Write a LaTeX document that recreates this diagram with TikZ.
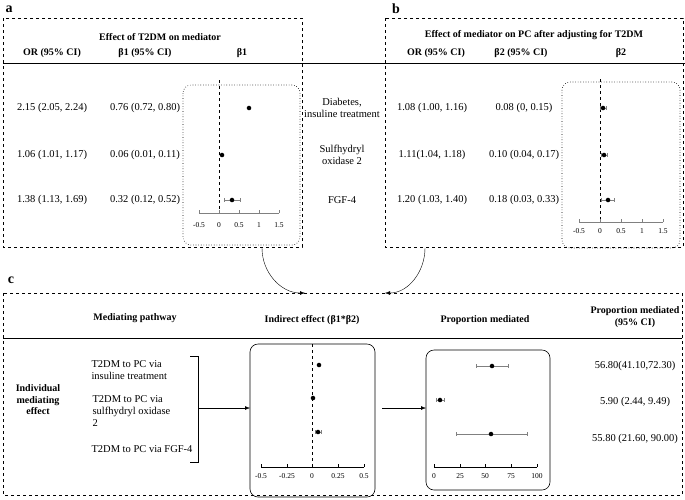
\documentclass[tikz,border=0pt]{standalone}
\usepackage{fontspec}
\setmainfont{Liberation Serif}
\usetikzlibrary{calc,arrows.meta}

\begin{document}
\begin{tikzpicture}[x=1pt,y=-1pt,font=\fontsize{10.5}{12}\selectfont,
 panel/.style={draw,dashed,line width=0.6pt},
 plotbox/.style={draw,rounded corners=8pt,line width=0.6pt},
 head/.style={font=\fontsize{10}{11.5}\selectfont\bfseries},
 lett/.style={font=\fontsize{14}{14}\selectfont\bfseries},
 tick/.style={font=\fontsize{7.5}{8}\selectfont},
 dot/.style={fill,circle,inner sep=1.6pt}]

\newcommand{\est}[5] % [x0][scale][y][lo][hi]
{
 \draw[gray] (#1+#4*#2,#3) -- (#1+#5*#2,#3)
  (#1+#4*#2,#3-2) -- ++(0,4) (#1+#5*#2,#3-2) -- ++(0,4);
}

\useasboundingbox (0,0) rectangle (685,499);

% panel a
\node[lett] (la) at (9,9) {a};
\draw[panel] (3,18) rectangle (302,247);
\node[head] (ha) at (160,37) {Effect of T2DM on mediator};
\node[head] (or1) at (52,53) {OR (95\% CI)};
\node[head] (b1) at (145,53) {β1 (95\% CI)};
\node[head] (b1p) at (242,53) {β1};
\draw[line width=0.8pt] (3,63) -- (685,63);
\foreach \y/\o/\b in {108/{2.15 (2.05, 2.24)}/{0.76 (0.72, 0.80)},
 155/{1.06 (1.01, 1.17)}/{0.06 (0.01, 0.11)},
 200/{1.38 (1.13, 1.69)}/{0.32 (0.12, 0.52)}}
 \node at (52,\y) {\o} node at (145,\y) {\b};
\draw[plotbox,dotted] (183,85) rectangle (300,245);
\draw[dashed] (219,80) -- (219,213);
\draw[gray] (199,213) -- (279,213);
\foreach \t/\x in {-0.5/199,0/219,0.5/239,1/259,1.5/279}
 \draw[gray] (\x,213) -- ++(0,-3) node[below=9pt,tick,text=black]{\t};
\est{219}{40}{200}{0.12}{0.52}
\node[dot] (pa1) at (249,108) {};
\node[dot] (pa2) at (222,155) {};
\node[dot] (pa3) at (232,200) {};

% mediators
\node[align=center] (m1) at (342,108) {Diabetes,\\insuline treatment};
\node[align=center] (m2) at (342,155) {Sulfhydryl\\oxidase 2};
\node (m3) at (342,200) {FGF-4};

% panel b
\node[lett] (lb) at (396,9) {b};
\draw[panel] (385,18) rectangle (683,247);
\node[head] (hb) at (534,35) {Effect of mediator on PC after adjusting for T2DM};
\node[head] (or2) at (436,53) {OR (95\% CI)};
\node[head] (b2) at (521,53) {β2 (95\% CI)};
\node[head] (b2p) at (621,53) {β2};
\foreach \y/\o/\b in {108/{1.08 (1.00, 1.16)}/{0.08 (0, 0.15)},
 155/{1.11(1.04, 1.18)}/{0.10 (0.04, 0.17)},
 200/{1.20 (1.03, 1.40)}/{0.18 (0.03, 0.33)}}
 \node at (432,\y) {\o} node at (524,\y) {\b};
\draw[plotbox,dotted] (562,82) rectangle (680,248);
\draw[dashed] (600,79) -- (600,222);
\draw[gray] (579,222) -- (663,222);
\foreach \t/\x in {-0.5/579,0/600,0.5/621,1/642,1.5/663}
 \draw[gray] (\x,222) -- ++(0,-3) node[below=6pt,tick,text=black]{\t};
\est{600}{42}{108}{0}{0.15}
\est{600}{42}{155}{0.04}{0.17}
\est{600}{42}{200}{0.03}{0.33}
\node[dot] (pb1) at (603,108) {};
\node[dot] (pb2) at (604,155) {};
\node[dot] (pb3) at (608,200) {};

% panel c
\coordinate (fa) at (262,248);
\coordinate (ta) at (305,293);
\coordinate (fb) at (425,248);
\coordinate (tb) at (385,293);
\draw[-{Latex[length=5pt]}] (fa) to[out=-90,in=180] (ta);
\draw[-{Latex[length=5pt]}] (fb) to[out=-90,in=0] (tb);

\node[lett] (lc) at (11,280) {c};
\draw[panel] (3,293) rectangle (682,495);
\node[head] (hc1) at (135,318) {Mediating pathway};
\node[head] (hc2) at (312,320) {Indirect effect (β1*β2)};
\node[head] (hc3) at (485,320) {Proportion mediated};
\node[head,align=center] (hc4) at (635,317) {Proportion mediated\\(95\% CI)};
\draw[line width=0.8pt] (3,338) -- (682,338);
\node[head,align=center] (ind) at (38,400) {Individual\\mediating\\effect};
\node[align=left,anchor=west] (pw1) at (88,370) {T2DM to PC via\\insuline treatment};
\node[align=left,anchor=west] (pw2) at (89,411) {T2DM to PC via\\sulfhydryl oxidase\\2};
\node[anchor=west] (pw3) at (88,449) {T2DM to PC via FGF-4};
\draw (190,356) -- (198,356) -- (198,462) -- (190,462);
\coordinate (br) at (198,408);

% indirect effect
\draw[plotbox] (250,344) rectangle (375,497);
\node (bxi) at (250,408) {};
\draw[-{Latex[length=5pt]}] (br) -- (bxi.center);
\draw[dashed] (312,344) -- (312,467);
\draw (261,467) -- (364,467);
\foreach \t/\x in {-0.5/261,-0.25/287,0/312,0.25/338,0.5/364}
 \draw (\x,467) -- ++(0,-3) node[below=6pt,tick]{\t};
\est{312}{103}{432}{0.03}{0.09}
\node[dot] (pc1) at (319,365) {};
\node[dot] (pc2) at (313,398) {};
\node[dot] (pc3) at (318,432) {};

% proportion mediated
\draw[plotbox] (426,350) rectangle (550,490);
\node (bxp) at (426,408) {};
\coordinate (fi) at (382,408);
\draw[-{Latex[length=5pt]}] (fi) -- (bxp.center);
\draw (434,467) -- (537,467);
\foreach \t/\x in {0/434,25/460,50/485,75/511,100/537}
 \draw (\x,467) -- ++(0,-3) node[below=6pt,tick]{\t};
\est{434}{1.03}{366}{41.1}{72.3}
\est{434}{1.03}{400}{2.44}{9.49}
\est{434}{1.03}{434}{21.6}{90}
\node[dot] (pp1) at (492,366) {};
\node[dot] (pp2) at (440,400) {};
\node[dot] (pp3) at (491,434) {};

\node (v1) at (635,366) {56.80(41.10,72.30)};
\node (v2) at (635,402) {5.90 (2.44, 9.49)};
\node (v3) at (635,439) {55.80 (21.60, 90.00)};

\end{tikzpicture}
\end{document}
